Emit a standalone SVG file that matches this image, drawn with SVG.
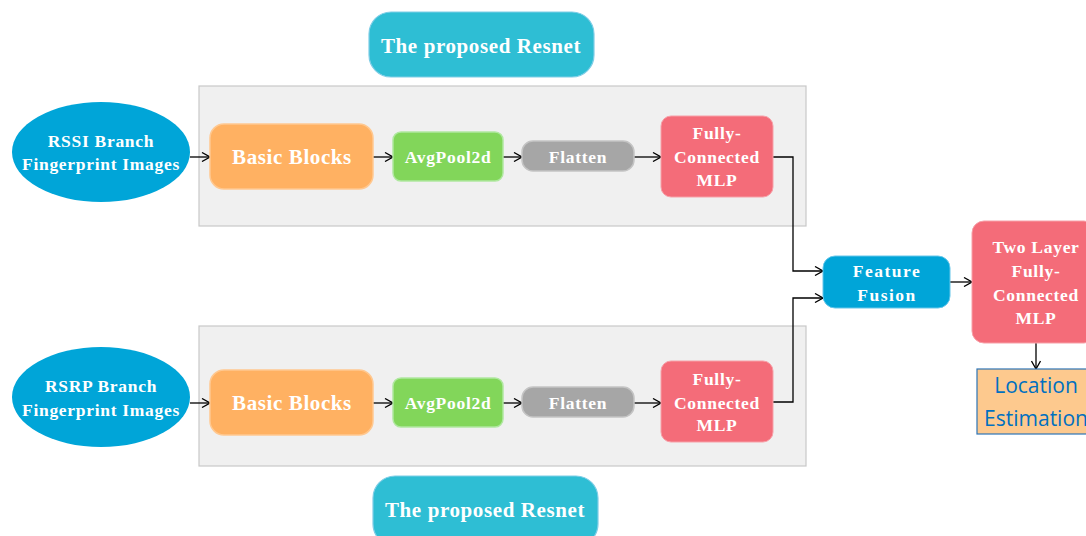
<svg xmlns="http://www.w3.org/2000/svg" width="1086" height="536" viewBox="0 0 1086 536">
  <defs>
    <marker id="arr" viewBox="0 0 10 10" refX="9" refY="5" markerWidth="10" markerHeight="10" markerUnits="userSpaceOnUse" orient="auto">
      <path d="M1,0.5 L9,5 L1,9.5" fill="none" stroke="#000" stroke-width="1.3"/>
    </marker>
  </defs>
  <style>
    .panel { fill: #f0f0f0; stroke: #c8c8c8; stroke-width: 1.2; }
    .t { font-family: "Liberation Serif", "DejaVu Serif", serif; font-weight: bold; fill: #ffffff; text-anchor: middle; dominant-baseline: central; font-size: 17.5px; letter-spacing: 0.7px; }
    .big { font-size: 21px; letter-spacing: 0.6px; }
    .title { fill: #2ebed4; stroke: #7fcde6; stroke-width: 1.2; }
    .src { fill: #00a5d8; }
    .blocks { fill: #ffb162; stroke: #ffc890; stroke-width: 1.5; }
    .pool { fill: #82d65a; stroke: #b0e8a0; stroke-width: 1.5; }
    .flat { fill: #a6a6a6; stroke: #c4c4c4; stroke-width: 1.5; }
    .fc { fill: #f46c79; stroke: #f7a0a8; stroke-width: 1; }
    .fuse { fill: #00a5d8; stroke: #66c6ea; stroke-width: 1; }
    .loc { fill: #fdc98e; stroke: #2e75b6; stroke-width: 1.2; }
    .loct { font-family: "Open Sans", "DejaVu Sans", sans-serif; font-size: 21px; fill: #0070c0; text-anchor: middle; dominant-baseline: central; }
    .conn path { fill: none; stroke: #000; stroke-width: 1.3; marker-end: url(#arr); }
  </style>

  <!-- branch panels -->
  <rect class="panel" x="199" y="86" width="607" height="140"/>
  <rect class="panel" x="199" y="326" width="607" height="140"/>

  <!-- connectors -->
  <g class="conn">
    <path d="M190,157 H210"/>
    <path d="M373,157 H393"/>
    <path d="M503,157 H522"/>
    <path d="M634,157 H661"/>
    <path d="M773,157 H793 V271 H823"/>
    <path d="M190,403 H210"/>
    <path d="M373,403 H393"/>
    <path d="M503,403 H522"/>
    <path d="M634,403 H661"/>
    <path d="M773,402 H793 V298 H823"/>
    <path d="M950,282 H972"/>
    <path d="M1036,343 V369"/>
  </g>

  <g id="title-top">
    <rect class="title" x="369" y="12" width="225" height="65" rx="22"/>
    <text class="t big" x="481" y="46">The proposed Resnet</text>
  </g>
  <g id="title-bottom">
    <rect class="title" x="373" y="476" width="225" height="70" rx="22"/>
    <text class="t big" x="485" y="510">The proposed Resnet</text>
  </g>

  <!-- RSSI branch -->
  <g id="rssi-input">
    <ellipse class="src" cx="101" cy="152" rx="89" ry="50"/>
    <text class="t" x="101" y="141">RSSI Branch</text>
    <text class="t" x="101" y="164">Fingerprint Images</text>
  </g>
  <g id="rssi-blocks">
    <rect class="blocks" x="210" y="124" width="163" height="65" rx="14"/>
    <text class="t big" x="292" y="157">Basic Blocks</text>
  </g>
  <g id="rssi-pool">
    <rect class="pool" x="393" y="132" width="110" height="49" rx="8"/>
    <text class="t" x="448" y="157">AvgPool2d</text>
  </g>
  <g id="rssi-flatten">
    <rect class="flat" x="522" y="141" width="112" height="30" rx="11"/>
    <text class="t" x="578" y="157">Flatten</text>
  </g>
  <g id="rssi-fc">
    <rect class="fc" x="661" y="116" width="112" height="81" rx="10"/>
    <text class="t" x="717" y="133">Fully-</text>
    <text class="t" x="717" y="157">Connected</text>
    <text class="t" x="717" y="180">MLP</text>
  </g>

  <!-- RSRP branch -->
  <g id="rsrp-input">
    <ellipse class="src" cx="101" cy="397" rx="89" ry="50"/>
    <text class="t" x="101" y="386">RSRP Branch</text>
    <text class="t" x="101" y="410">Fingerprint Images</text>
  </g>
  <g id="rsrp-blocks">
    <rect class="blocks" x="210" y="370" width="163" height="65" rx="14"/>
    <text class="t big" x="292" y="403">Basic Blocks</text>
  </g>
  <g id="rsrp-pool">
    <rect class="pool" x="393" y="378" width="110" height="49" rx="8"/>
    <text class="t" x="448" y="403">AvgPool2d</text>
  </g>
  <g id="rsrp-flatten">
    <rect class="flat" x="522" y="387" width="112" height="30" rx="11"/>
    <text class="t" x="578" y="403">Flatten</text>
  </g>
  <g id="rsrp-fc">
    <rect class="fc" x="661" y="361" width="112" height="81" rx="10"/>
    <text class="t" x="717" y="379">Fully-</text>
    <text class="t" x="717" y="403">Connected</text>
    <text class="t" x="717" y="425">MLP</text>
  </g>

  <!-- fusion and head -->
  <g id="fusion">
    <rect class="fuse" x="823" y="256" width="127" height="52" rx="12"/>
    <text class="t" x="887" y="271" style="letter-spacing:1.5px">Feature</text>
    <text class="t" x="887" y="295" style="letter-spacing:1.5px">Fusion</text>
  </g>
  <g id="head-mlp">
    <rect class="fc" x="972" y="221" width="124" height="122" rx="12"/>
    <text class="t" x="1036" y="247">Two Layer</text>
    <text class="t" x="1036" y="271">Fully-</text>
    <text class="t" x="1036" y="295">Connected</text>
    <text class="t" x="1036" y="318">MLP</text>
  </g>
  <g id="location">
    <rect class="loc" x="977" y="369" width="120" height="65"/>
    <text class="loct" x="1036" y="385">Location</text>
    <text class="loct" x="1036" y="418">Estimation</text>
  </g>
</svg>
